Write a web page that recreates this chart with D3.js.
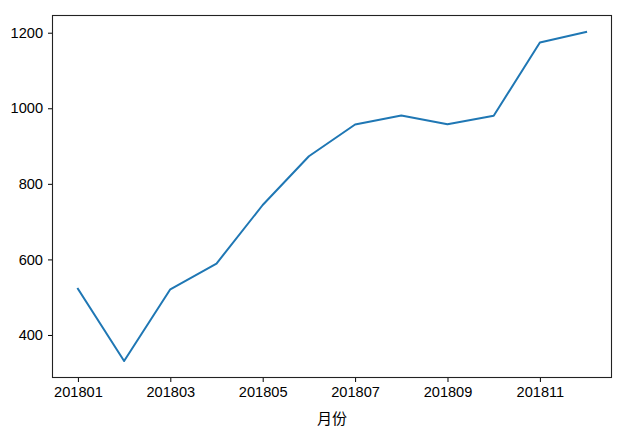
<!DOCTYPE html>
<html><head><meta charset="utf-8">
<script src="https://cdn.jsdelivr.net/npm/d3@7"></script>
<style>body{margin:0;background:#fff}svg{display:block}</style>
</head><body>
<script>
const months = ["201801","201802","201803","201804","201805","201806","201807","201808","201809","201810","201811","201812"];
const values = [522, 331, 521, 589, 744, 873, 957, 981, 958, 980, 1174, 1202];
const yTicks = [400, 600, 800, 1000, 1200];
const xTickLabels = ["201801","201803","201805","201807","201809","201811"];
const xLabel = "月份";

const W = 628, H = 435;
const L = 52.5, R = 611.5, T = 15.5, B = 377.5;
const svg = d3.select("body").append("svg").attr("width", W).attr("height", H);

const n = months.length;
const xm = (n - 1) * 0.05;
const x = d3.scaleLinear().domain([-xm, n - 1 + xm]).range([L, R]);
const ymin = d3.min(values), ymax = d3.max(values), ym = (ymax - ymin) * 0.05;
const y = d3.scaleLinear().domain([ymin - ym, ymax + ym]).range([B, T]);

const font = "'Liberation Sans', Arial, sans-serif";

const xAxis = d3.axisBottom(x)
  .tickValues(xTickLabels.map(l => months.indexOf(l)))
  .tickFormat(i => months[i]).tickSize(4.5).tickPadding(5);
const gx = svg.append("g").attr("transform", `translate(0,${B})`).call(xAxis);
gx.select(".domain").remove();
gx.selectAll("line").attr("stroke", "#000").attr("stroke-width", 1);
gx.selectAll("text").attr("font-family", font).attr("font-size", 14.6).attr("fill", "#000");

const yAxis = d3.axisLeft(y).tickValues(yTicks).tickFormat(d3.format("d")).tickSize(4.5).tickPadding(5);
const gy = svg.append("g").attr("transform", `translate(${L},0)`).call(yAxis);
gy.select(".domain").remove();
gy.selectAll("line").attr("stroke", "#000").attr("stroke-width", 1);
gy.selectAll("text").attr("font-family", font).attr("font-size", 14.6).attr("fill", "#000");

const line = d3.line().x((d, i) => x(i)).y(d => y(d));
svg.append("path").datum(values).attr("d", line)
  .attr("fill", "none").attr("stroke", "#1f77b4").attr("stroke-width", 2)
  .attr("stroke-linejoin", "round").attr("stroke-linecap", "square");

svg.append("rect").attr("x", L).attr("y", T).attr("width", R - L).attr("height", B - T)
  .attr("fill", "none").attr("stroke", "#222").attr("stroke-width", 1.1);

svg.append("text").attr("x", (L + R) / 2).attr("y", 424)
  .attr("text-anchor", "middle").attr("font-family", "'Noto Sans CJK SC', sans-serif")
  .attr("font-size", 15).attr("fill", "#000").text(xLabel);
</script>
</body></html>
